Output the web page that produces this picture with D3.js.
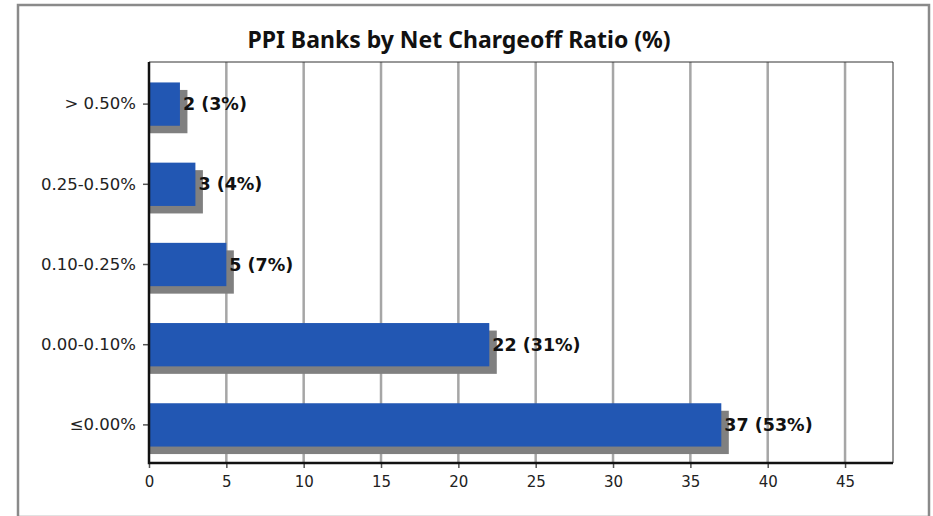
<!DOCTYPE html>
<html><head><meta charset="utf-8">
<script src="https://cdn.jsdelivr.net/npm/d3@7"></script>
<style>body{margin:0;background:#fff}svg{display:block}</style>
</head><body>
<svg id="c" width="933" height="516"></svg>
<script>
const categories = ["> 0.50%", "0.25-0.50%", "0.10-0.25%", "0.00-0.10%", "≤0.00%"];
const counts = [2, 3, 5, 22, 37];
const shares = ["3%", "4%", "7%", "31%", "53%"];
const xTicks = [0, 5, 10, 15, 20, 25, 30, 35, 40, 45];
const title = "PPI Banks by Net Chargeoff Ratio (%)";

const svg = d3.select("#c");
const font = "'Noto Sans', 'Open Sans', sans-serif";
const tickFont = "'DejaVu Sans', sans-serif";
// outer frame
svg.append("rect").attr("x", 18).attr("y", 5).attr("width", 911).attr("height", 512)
  .attr("fill", "#fff").attr("stroke", "#8a8a8a").attr("stroke-width", 2.5);

const L = 149, R = 893, T = 62, B = 463;
const x = d3.scaleLinear().domain([0, 48.1]).range([L, R]);
const y = d3.scaleBand().domain(categories).range([T + 2, B + 2]).paddingInner(0.46).paddingOuter(0.23);

svg.append("text").attr("x", 459).attr("y", 48).attr("text-anchor", "middle")
  .attr("font-family", font).attr("font-weight", "bold").attr("font-size", 23)
  .attr("fill", "#111").text(title);

// gridlines
svg.append("g").selectAll("line").data(xTicks.filter(d => d > 0)).join("line")
  .attr("x1", d => x(d)).attr("x2", d => x(d)).attr("y1", T).attr("y2", B)
  .attr("stroke", "#a6a6a6").attr("stroke-width", 2.5);

// plot border top/right
svg.append("path").attr("d", `M${L},${T}H${R}V${B}`).attr("fill", "none")
  .attr("stroke", "#333").attr("stroke-width", 1);

const data = categories.map((c, i) => ({c, v: counts[i], s: shares[i]}));
const off = 7.5;
// shadows
svg.append("g").selectAll("rect").data(data).join("rect")
  .attr("x", x(0)).attr("y", d => y(d.c) + off)
  .attr("width", d => x(d.v) - x(0) + off).attr("height", y.bandwidth())
  .attr("fill", "#808080");
// bars
svg.append("g").selectAll("rect").data(data).join("rect")
  .attr("x", x(0)).attr("y", d => y(d.c))
  .attr("width", d => x(d.v) - x(0)).attr("height", y.bandwidth())
  .attr("fill", "#2257b3");
// labels
svg.append("g").selectAll("text").data(data).join("text")
  .attr("x", d => x(d.v) + 3).attr("y", d => y(d.c) + y.bandwidth() / 2 + 1)
  .attr("dominant-baseline", "middle")
  .attr("font-family", tickFont).attr("font-weight", "bold").attr("font-size", 17.5)
  .attr("fill", "#111").text(d => `${d.v} (${d.s})`);

// axes
const xa = svg.append("g").attr("transform", `translate(0,${B})`)
  .call(d3.axisBottom(x).tickValues(xTicks).tickSize(5).tickPadding(8).tickSizeOuter(0));
xa.select(".domain").remove();
xa.selectAll("text").style("font-family", tickFont).style("font-size", "15px").attr("fill", "#222");
xa.selectAll("line").attr("stroke", "#555").attr("stroke-width", 1.5);

const ya = svg.append("g").attr("transform", `translate(${L},0)`)
  .call(d3.axisLeft(y).tickSize(6).tickPadding(7).tickSizeOuter(0));
ya.select(".domain").remove();
ya.selectAll("text").style("font-family", tickFont).style("font-size", "16.5px").attr("fill", "#222");
ya.selectAll("line").attr("stroke", "#555").attr("stroke-width", 1.5);

svg.append("path").attr("d", `M${L},${T}V${B}H${R}`).attr("fill", "none")
  .attr("stroke", "#111").attr("stroke-width", 2.5);
</script>
</body></html>
